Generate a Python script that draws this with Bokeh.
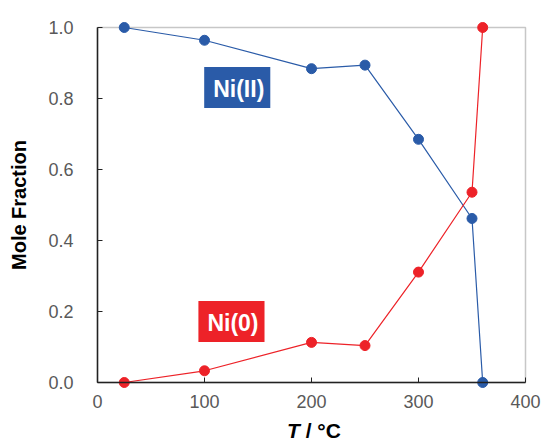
from bokeh.plotting import figure
from bokeh.models import (Label, FixedTicker, NumeralTickFormatter, Range1d, BoxAnnotation,
                          Div, LinearAxis)
from bokeh.layouts import column
from bokeh.embed import file_html
from bokeh.resources import INLINE

# ---- data ----
temperature = [25, 100, 200, 250, 300, 350, 360]
ni_ii = [1.0, 0.964, 0.884, 0.894, 0.685, 0.462, 0.0]
ni_0 = [0.0, 0.033, 0.113, 0.104, 0.311, 0.536, 1.0]
x_ticks = [0, 100, 200, 300, 400]
y_ticks = [0.0, 0.2, 0.4, 0.6, 0.8, 1.0]
X_MIN, X_MAX = 0, 400
Y_MIN, Y_MAX = 0.0, 1.0

BLUE = "#2a5ba8"
RED = "#ed2228"
FONT = "Liberation Sans"

# small padding so that markers on the axis limits are not clipped
x_pad = (X_MAX - X_MIN) * 6 / 428
y_pad = (Y_MAX - Y_MIN) * 6 / 355

p = figure(width=542, height=421, output_backend="svg", toolbar_location=None,
           x_range=Range1d(X_MIN - x_pad, X_MAX + x_pad),
           y_range=Range1d(Y_MIN - y_pad, Y_MAX + y_pad),
           min_border_left=91, min_border_right=11, min_border_top=21, min_border_bottom=33)

p.xgrid.visible = False
p.ygrid.visible = False
p.outline_line_color = None
p.background_fill_color = "white"
p.border_fill_color = "white"

# plot box (top/right edges)
p.add_layout(BoxAnnotation(left=X_MIN, right=X_MAX, bottom=Y_MIN, top=Y_MAX,
                           fill_alpha=0, line_color="#444444", line_width=1.5,
                           level="underlay"))

# axes drawn at the data limits: lines and inward ticks only (labels not drawn)
for ax in (p.xaxis[0], p.yaxis[0]):
    ax.axis_line_color = "#222222"
    ax.axis_line_width = 1.5
    ax.major_tick_in = 5
    ax.major_tick_out = 0
    ax.major_tick_line_color = "#222222"
    ax.minor_tick_line_color = None
    ax.major_label_text_font_size = "1px"
    ax.major_label_text_color = None
    ax.major_label_standoff = 0
    ax.fixed_location = 0
p.xaxis[0].bounds = (X_MIN, X_MAX)
p.yaxis[0].bounds = (Y_MIN, Y_MAX)
p.xaxis[0].ticker = FixedTicker(ticks=x_ticks)
p.yaxis[0].ticker = FixedTicker(ticks=y_ticks)

# axes carrying the tick labels and title
yl = LinearAxis(ticker=FixedTicker(ticks=y_ticks), formatter=NumeralTickFormatter(format="0.0"))
xl = LinearAxis(ticker=FixedTicker(ticks=x_ticks))
for ax in (xl, yl):
    ax.axis_line_color = None
    ax.major_tick_line_color = None
    ax.minor_tick_line_color = None
    ax.major_tick_in = 0
    ax.major_tick_out = 0
    ax.major_label_text_font = FONT
    ax.major_label_text_font_size = "18px"
    ax.major_label_text_color = "#595959"
xl.major_label_standoff = 6
yl.major_label_standoff = 18
yl.axis_label = "Mole Fraction"
yl.axis_label_text_font = FONT
yl.axis_label_text_font_style = "bold"
yl.axis_label_text_font_size = "20px"
yl.axis_label_text_color = "black"
yl.axis_label_standoff = 15
p.add_layout(yl, "left")
p.add_layout(xl, "below")

# series
p.line(temperature, ni_ii, line_color=BLUE, line_width=1.2)
p.scatter(temperature, ni_ii, size=10, fill_color=BLUE, line_color=BLUE)
p.line(temperature, ni_0, line_color=RED, line_width=1.2)
p.scatter(temperature, ni_0, size=10, fill_color=RED, line_color=RED)

# labels in boxes
for txt, xx, yy, col in [("Ni(II)", 130.6, 0.831, BLUE), ("Ni(0)", 125.2, 0.172, RED)]:
    p.add_layout(Label(x=xx, y=yy, text=txt, text_align="center", text_baseline="middle",
                       text_font=FONT, text_font_style="bold", text_font_size="23px",
                       text_color="white", background_fill_color=col,
                       padding=(9, 6, 9, 6)))

# x-axis title with italic T
xlabel = Div(text='<div style="position:relative; left:287px; top:-1px; '
                  'font-family:\'Liberation Sans\'; font-weight:bold; font-size:21px; '
                  'line-height:22px; color:black; white-space:nowrap;">'
                  '<i>T</i> / \u00b0C</div>',
             width=542, height=22, margin=0)

layout = column(p, xlabel, spacing=0)
open("out.html", "w").write(file_html(layout, INLINE))
